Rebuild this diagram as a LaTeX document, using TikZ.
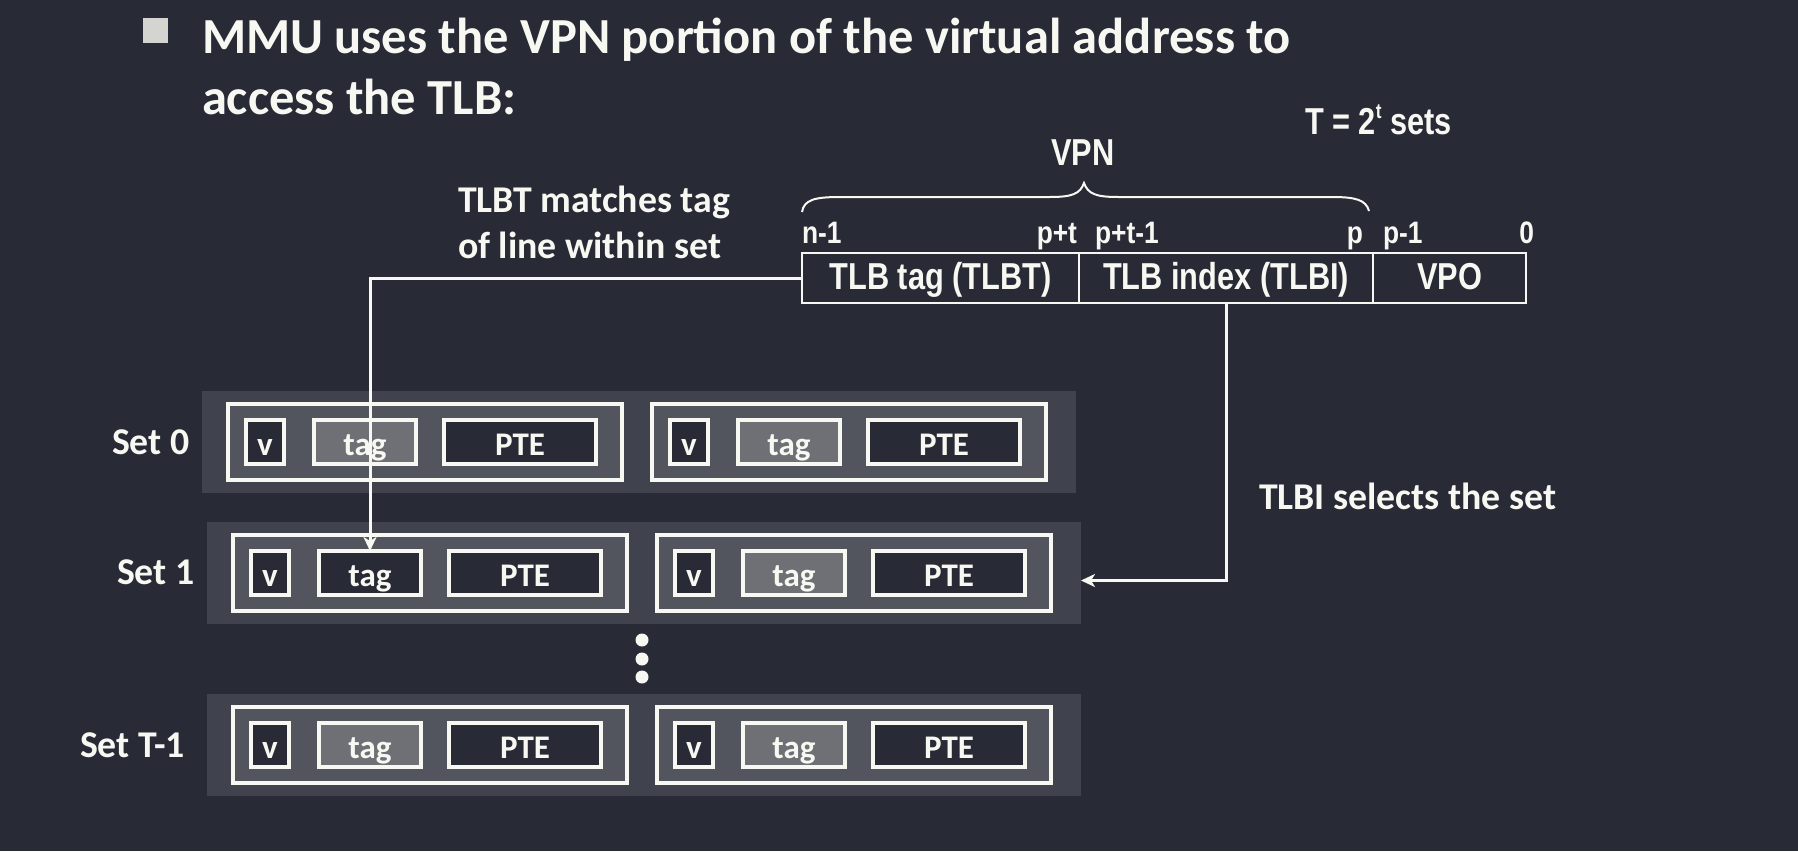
\documentclass[tikz,border=0pt]{standalone}
\usepackage{fontspec}
\setmainfont{Carlito}
\newfontfamily\narrowfont{Liberation Sans}[FakeStretch=0.82]
\newfontfamily\narrowsmallfont{Liberation Sans}[FakeStretch=0.85]
\usetikzlibrary{arrows.meta}
\definecolor{bgdark}{HTML}{282A36}
\definecolor{fg}{HTML}{F8F8F2}
\definecolor{setgray}{HTML}{40424D}
\definecolor{linegray}{HTML}{53555E}
\definecolor{taggray}{HTML}{6F7076}
\definecolor{bulletgray}{HTML}{D4D4D0}
\newcommand\titlefont{\fontsize{50.5}{60}\selectfont\bfseries}
\newcommand\labfont{\fontsize{37.8}{44}\selectfont\bfseries}
\newcommand\cellfont{\fontsize{33}{38}\selectfont\bfseries}
\newcommand\nbig{\narrowfont\fontsize{37.5}{42}\selectfont\bfseries}
\newcommand\nsmall{\narrowsmallfont\fontsize{31}{34}\selectfont\bfseries}
\tikzset{
  box/.style={anchor=north west, outer sep=0pt, inner sep=0pt},
  setbg/.style={box, fill=setgray},
  linebox/.style={box, fill=linegray, draw=fg, line width=4pt},
  cellbox/.style={box, fill=bgdark, draw=fg, line width=4pt},
  tagbox/.style={box, fill=taggray, draw=fg, line width=4pt},
  addrcell/.style={box, draw=fg, line width=2pt, minimum height=50pt},
  txt/.style={text=fg, inner sep=0pt, outer sep=0pt},
  celltext/.style={txt, font=\cellfont, anchor=base},
  conn/.style={draw=fg, line width=3pt, -{Stealth[length=14pt,width=13pt,inset=4pt]}},
  dot/.style={circle, fill=fg, minimum size=13pt, inner sep=0pt},
}
% #1 name, #2 left x, #3 set top y, #4 style of the tag box
\newcommand\tlbline[4]{%
  \node[linebox, minimum width=394pt, minimum height=76pt] (#1) at (#2,#3+13) {};
  \node[cellbox, minimum width=38pt, minimum height=44pt] (#1v) at (#2+18,#3+29) {};
  \node[#4, minimum width=102pt, minimum height=44pt] (#1t) at (#2+86,#3+29) {};
  \node[cellbox, minimum width=152pt, minimum height=44pt] (#1p) at (#2+216,#3+29) {};
  \node[celltext] (#1vl) at (#2+37,#3+64) {v};
  \node[celltext] (#1tl) at (#2+137,#3+64) {tag};
  \node[celltext] (#1pl) at (#2+292,#3+64) {PTE};
}
% #1 name, #2 x0, #3 y0, #4 tag style of first line
\newcommand\tlbset[4]{%
  \node[setbg, minimum width=874pt, minimum height=102pt] (#1) at (#2,#3) {};
  \tlbline{#1a}{#2+26}{#3}{#4}
  \tlbline{#1b}{#2+450}{#3}{tagbox}
}
\begin{document}
\begin{tikzpicture}[x=1pt, y=-1pt]
\fill[bgdark] (0,0) rectangle (1798,851);
\useasboundingbox (0,0) rectangle (1798,851);

% title
\node[box, fill=bulletgray, minimum size=25pt] (bullet) at (143,18) {};
\node[txt, font=\titlefont, anchor=base west] (title1) at (202,53) {MMU uses the VPN portion of the virtual address to};
\node[txt, font=\titlefont, anchor=base west] (title2) at (202,114) {access the TLB:};

% virtual address
\node[addrcell, minimum width=277pt] (tlbt) at (802,253) {};
\node[addrcell, minimum width=294pt] (tlbi) at (1079,253) {};
\node[addrcell, minimum width=153pt] (vpo) at (1373,253) {};
\node[txt, font=\nbig, anchor=base] (tlbtl) at (940.5,289) {TLB tag (TLBT)};
\node[txt, font=\nbig, anchor=base] (tlbil) at (1226,289) {TLB index (TLBI)};
\node[txt, font=\nbig, anchor=base] (vpol) at (1449.5,289) {VPO};

\node[txt, font=\nsmall, anchor=base west] (b1) at (802,243) {n-1};
\node[txt, font=\nsmall, anchor=base east] (b2) at (1077,243) {p+t};
\node[txt, font=\nsmall, anchor=base west] (b3) at (1095,243) {p+t-1};
\node[txt, font=\nsmall, anchor=base east] (b4) at (1363,243) {p};
\node[txt, font=\nsmall, anchor=base west] (b5) at (1383,243) {p-1};
\node[txt, font=\nsmall, anchor=base east] (b6) at (1534,243) {0};

% brace
\draw[fg, line width=2pt] (802,212) .. controls (804,200) and (814,197) .. (840,197)
  -- (1050,197) .. controls (1072,197) and (1080,194) .. (1084,183)
  .. controls (1088,194) and (1096,197) .. (1118,197)
  -- (1332,197) .. controls (1356,197) and (1366,200) .. (1369,211);
\node[txt, font=\nbig, anchor=base] (vpn) at (1083,165) {VPN};
\node[txt, font=\nbig, anchor=base west] (tsets) at (1305,134)
  {T = 2\raisebox{0.42em}{\fontsize{21}{21}\selectfont t} sets};

% labels
\node[txt, font=\labfont, anchor=base west] (lab1) at (458,212) {TLBT matches tag};
\node[txt, font=\labfont, anchor=base west] (lab2) at (458,258) {of line within set};
\node[txt, font=\labfont, anchor=base west] (lab3) at (1259,509) {TLBI selects the set};

% sets
\tlbset{s0}{202}{391}{tagbox}
\tlbset{s1}{207}{522}{cellbox}
\tlbset{sT}{207}{694}{tagbox}
\node[txt, font=\labfont, anchor=base west] (l0) at (112,454) {Set 0};
\node[txt, font=\labfont, anchor=base west] (l1) at (117,584) {Set 1};
\node[txt, font=\labfont, anchor=base west] (lT) at (80,757) {Set T-1};

\node[dot] (d1) at (642,640) {};
\node[dot] (d2) at (642,659) {};
\node[dot] (d3) at (642,677) {};

% connectors
\draw[conn] (tlbt.west) -| (s1at.north);
\draw[conn] (tlbi.south) |- ([yshift=-7.5pt]s1.east);
\end{tikzpicture}
\end{document}
